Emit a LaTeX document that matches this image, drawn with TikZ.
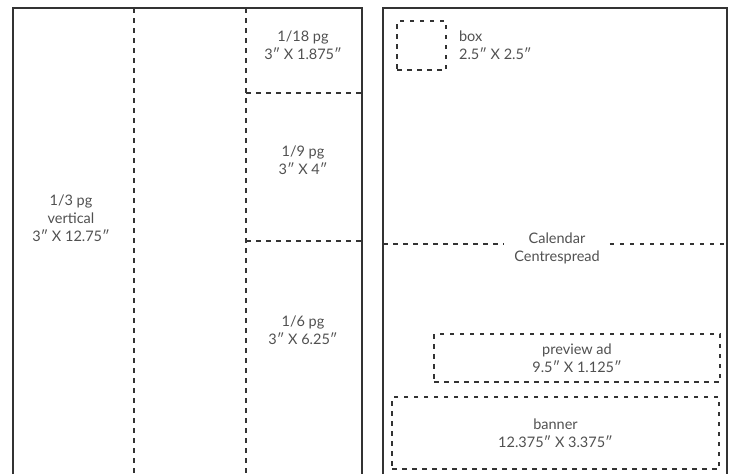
\documentclass[tikz,border=0pt]{standalone}
\usepackage{fontspec}
\setmainfont{Lato}
\usepackage{tikz}
\usetikzlibrary{positioning}
\definecolor{edge}{HTML}{333333}
\definecolor{ink}{HTML}{505050}

\begin{document}
\begin{tikzpicture}[x=1pt,y=-1pt,
  page/.style={draw=edge,line width=1.2pt},
  cut/.style={draw=edge,line width=1.1pt,dash pattern=on 4.5pt off 5.5pt},
  slot/.style={cut,rectangle,inner sep=0pt},
  lbl/.style={text=ink,align=center,font=\fontsize{14.5}{18}\selectfont}]
\useasboundingbox (0,0) rectangle (735,474);
% left page
\draw[page] (13,474) -- (13,8) -- (362,8) -- (362,474);
\coordinate (c1t) at (134,8);  \coordinate (c1b) at (134,474);
\coordinate (c2t) at (246,8);  \coordinate (c2b) at (246,474);
\coordinate (h1l) at (246,93);  \coordinate (h1r) at (362,93);
\coordinate (h2l) at (246,241); \coordinate (h2r) at (362,241);
\draw[cut] (c1t) -- (c1b);
\draw[cut] (c2t) -- (c2b);
\draw[cut] (h1l) -- (h1r);
\draw[cut] (h2l) -- (h2r);
\node[lbl] (third) at (71,218) {1/3 pg\\vertical\\3″ X 12.75″};
\node[lbl] (eighteenth) at (303,45) {1/18 pg\\3″ X 1.875″};
\node[lbl] (ninth) at (303,160) {1/9 pg\\3″ X 4″};
\node[lbl] (sixth) at (303,330) {1/6 pg\\3″ X 6.25″};
% right page
\draw[page] (383,474) -- (383,8) -- (727,8) -- (727,474);
\coordinate (calL) at (383,244); \coordinate (calR) at (727,244);
\node[lbl,inner xsep=10pt] (cal) at (557,248) {Calendar\\Centrespread};
\draw[cut] (calL) -- (calL -| cal.west);
\draw[cut] (calR -| cal.east) -- (calR);
\node[slot,minimum width=49pt,minimum height=49pt] (box) at (421.5,45.5) {};
\node[lbl,align=left,anchor=west,right=9pt of box] (boxlbl) {box\\2.5″ X 2.5″};
\node[slot,minimum width=286pt,minimum height=48pt] (preview) at (577,358) {};
\node[lbl] at (preview) {preview ad\\9.5″ X 1.125″};
\node[slot,minimum width=327pt,minimum height=72pt] (banner) at (555.5,433) {};
\node[lbl] at (banner) {banner\\12.375″ X 3.375″};
\end{tikzpicture}
\end{document}
